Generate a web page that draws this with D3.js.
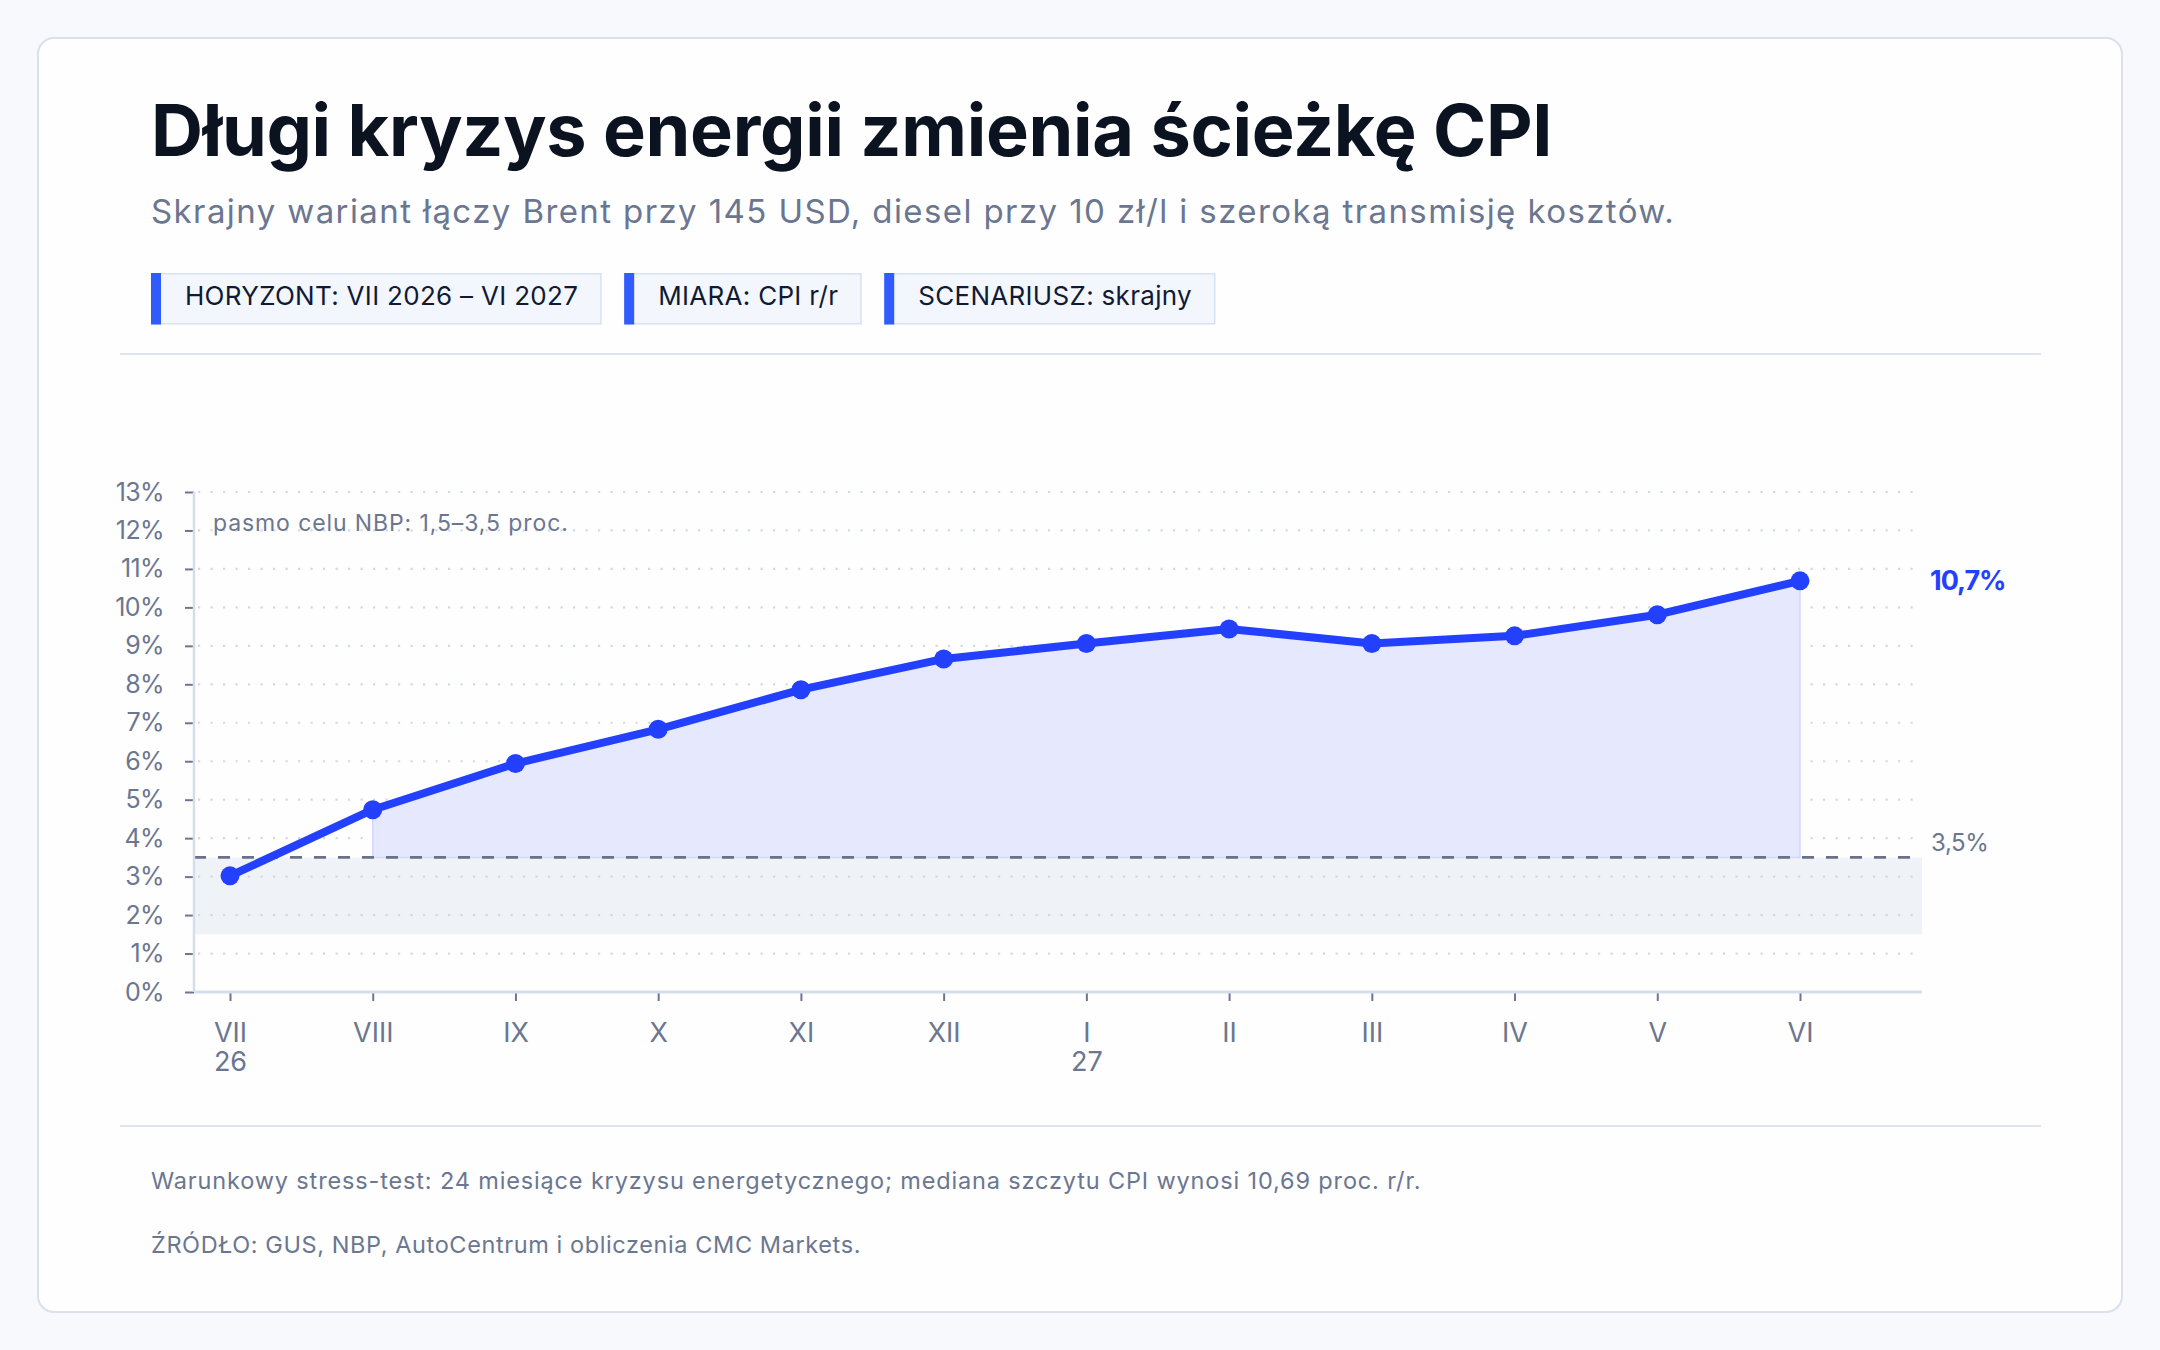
<!DOCTYPE html>
<html lang="pl">
<head>
<meta charset="utf-8">
<script src="https://cdn.jsdelivr.net/npm/d3@7"></script>
<style>
  html, body { margin: 0; padding: 0; background: #f7f9fc; }
  svg { display: block; font-family: Inter, "Noto Sans", sans-serif; }
</style>
</head>
<body>
<div id="chart"></div>
<script>
// Data
const months = ["VII", "VIII", "IX", "X", "XI", "XII", "I", "II", "III", "IV", "V", "VI"];
const years = ["26", "", "", "", "", "", "27", "", "", "", "", ""];
const cpi = [3.02, 4.74, 5.94, 6.83, 7.86, 8.66, 9.06, 9.44, 9.06, 9.26, 9.81, 10.69];
const yTicks = [0, 1, 2, 3, 4, 5, 6, 7, 8, 9, 10, 11, 12, 13];
const targetBand = [1.5, 3.5];
const tags = ["HORYZONT: VII 2026 – VI 2027", "MIARA: CPI r/r", "SCENARIUSZ: skrajny"];

const title = "Długi kryzys energii zmienia ścieżkę CPI";
const subtitle = "Skrajny wariant łączy Brent przy 145 USD, diesel przy 10 zł/l i szeroką transmisję kosztów.";
const note = "Warunkowy stress-test: 24 miesiące kryzysu energetycznego; mediana szczytu CPI wynosi 10,69 proc. r/r.";
const source = "ŹRÓDŁO: GUS, NBP, AutoCentrum i obliczenia CMC Markets.";
const bandLabel = "pasmo celu NBP: 1,5–3,5 proc.";

// Layout
const W = 2160, H = 1350;
const plot = { left: 194, right: 1922, top: 492, bottom: 992 };
const ink = "#0b1220", muted = "#6b7690", blue = "#2340ff";

const svg = d3.select("#chart").append("svg")
    .attr("width", W)
    .attr("height", H);

// card
svg.append("rect")
    .attr("x", 38).attr("y", 38)
    .attr("width", 2084).attr("height", 1274)
    .attr("rx", 16)
    .attr("fill", "#fefefe")
    .attr("stroke", "#d9e1ec")
    .attr("stroke-width", 2);

// header
svg.append("text")
    .attr("x", 151).attr("y", 156)
    .attr("fill", ink)
    .attr("font-size", 72)
    .attr("font-weight", 700)
    .attr("letter-spacing", -0.3)
    .text(title);

svg.append("text")
    .attr("x", 151).attr("y", 223)
    .attr("fill", muted)
    .attr("font-size", 33)
    .attr("letter-spacing", 1.4)
    .text(subtitle);

// tags
let tagX = 151;
tags.forEach(t => {
    const g = svg.append("g").attr("transform", `translate(${tagX},273)`);
    const label = g.append("text")
        .attr("x", 34).attr("y", 32)
        .attr("fill", "#101a33")
        .attr("font-size", 26)
        .attr("letter-spacing", 0.3)
        .text(t);
    const w = label.node().getComputedTextLength() + 34 + 22;
    g.insert("rect", "text")
        .attr("x", 0.75).attr("y", 0.75)
        .attr("width", w).attr("height", 50)
        .attr("fill", "#f3f6fc")
        .attr("stroke", "#d8e1ee")
        .attr("stroke-width", 1.5);
    g.insert("rect", "text")
        .attr("x", 0).attr("y", 0)
        .attr("width", 10).attr("height", 51.5)
        .attr("fill", "#2f5bff");
    tagX += w + 24;
});

// separators
[354, 1126].forEach(yy => {
    svg.append("line")
        .attr("x1", 120).attr("x2", 2041)
        .attr("y1", yy).attr("y2", yy)
        .attr("stroke", "#dce4ef")
        .attr("stroke-width", 2);
});

// scales
const x = d3.scaleLinear().domain([0, months.length - 1]).range([230, 1800]);
const y = d3.scaleLinear().domain([0, 13]).range([plot.bottom, plot.top]);

// target band
svg.append("rect")
    .attr("x", plot.left)
    .attr("y", y(targetBand[1]))
    .attr("width", plot.right - plot.left)
    .attr("height", y(targetBand[0]) - y(targetBand[1]))
    .attr("fill", "#eff3f8");

// dotted grid
svg.append("g")
    .selectAll("line")
    .data(yTicks.filter(d => d > 0))
    .join("line")
    .attr("x1", plot.left + 4).attr("x2", plot.right)
    .attr("y1", d => y(d)).attr("y2", d => y(d))
    .attr("stroke", "#d3d9e3")
    .attr("stroke-width", 2.2)
    .attr("stroke-dasharray", "2.2 10.3");

// area above target
const pts = cpi.map((v, i) => ({ i, v })).filter(d => d.v >= targetBand[1]);
const area = d3.area()
    .x(d => x(d.i))
    .y0(y(targetBand[1]))
    .y1(d => y(d.v));
svg.append("path")
    .datum(pts)
    .attr("d", area)
    .attr("fill", "#e6e9fe")
    .attr("stroke", "#d2d8fb")
    .attr("stroke-width", 1.5);

// target dashed line
svg.append("line")
    .attr("x1", plot.left).attr("x2", plot.right - 10)
    .attr("y1", y(targetBand[1])).attr("y2", y(targetBand[1]))
    .attr("stroke", "#677189")
    .attr("stroke-width", 2.6)
    .attr("stroke-dasharray", "12 12");

svg.append("text")
    .attr("x", 1931).attr("y", y(targetBand[1]) - 6)
    .attr("fill", muted)
    .attr("font-size", 24)
    .attr("letter-spacing", -0.4)
    .text("3,5%");

svg.append("text")
    .attr("x", 213).attr("y", 531)
    .attr("fill", muted)
    .attr("font-size", 23)
    .attr("letter-spacing", 0.9)
    .text(bandLabel);

// axes
const yAxis = svg.append("g")
    .attr("transform", `translate(${plot.left},0)`)
    .call(d3.axisLeft(y).tickValues(yTicks).tickFormat(d => d + "%").tickSize(9).tickPadding(21));
yAxis.select(".domain").remove();
yAxis.selectAll(".tick line").attr("stroke", muted).attr("stroke-width", 2);
yAxis.selectAll(".tick text")
    .attr("fill", muted)
    .attr("font-size", 25)
    .attr("letter-spacing", -0.6)
    .attr("font-family", "Inter, sans-serif");

const xAxis = svg.append("g")
    .attr("transform", `translate(0,${plot.bottom})`)
    .call(d3.axisBottom(x).tickValues(d3.range(months.length)).tickFormat("").tickSize(9));
xAxis.select(".domain").remove();
xAxis.selectAll(".tick line").attr("stroke", muted).attr("stroke-width", 2);
xAxis.selectAll(".tick").each(function (d) {
    const t = d3.select(this).append("text")
        .attr("fill", muted)
        .attr("font-size", 27)
        .attr("font-family", "Inter, sans-serif")
        .attr("text-anchor", "middle");
    t.append("tspan").attr("x", 0).attr("y", 50).text(months[d]);
    if (years[d]) t.append("tspan").attr("x", 0).attr("y", 79).text(years[d]);
});

// axis lines
svg.append("line")
    .attr("x1", plot.left).attr("x2", plot.left)
    .attr("y1", plot.top).attr("y2", plot.bottom)
    .attr("stroke", "#d5deeb").attr("stroke-width", 2.5);
svg.append("line")
    .attr("x1", plot.left).attr("x2", plot.right)
    .attr("y1", plot.bottom).attr("y2", plot.bottom)
    .attr("stroke", "#d5deeb").attr("stroke-width", 3);

// CPI line + points
const line = d3.line().x((d, i) => x(i)).y(d => y(d));
svg.append("path")
    .datum(cpi)
    .attr("d", line)
    .attr("fill", "none")
    .attr("stroke", blue)
    .attr("stroke-width", 8)
    .attr("stroke-linejoin", "round");

svg.append("g")
    .selectAll("circle")
    .data(cpi)
    .join("circle")
    .attr("cx", (d, i) => x(i))
    .attr("cy", d => y(d))
    .attr("r", 9.5)
    .attr("fill", blue);

const last = cpi[cpi.length - 1];
svg.append("text")
    .attr("x", 1930).attr("y", y(last))
    .attr("dy", "0.35em")
    .attr("fill", blue)
    .attr("font-size", 27)
    .attr("font-weight", 700)
    .attr("letter-spacing", -1)
    .text(d3.format(".1f")(last).replace(".", ",") + "%");

// footer
svg.append("text")
    .attr("x", 151).attr("y", 1189)
    .attr("fill", muted)
    .attr("font-size", 23.5)
    .attr("letter-spacing", 0.85)
    .text(note);
svg.append("text")
    .attr("x", 151).attr("y", 1253)
    .attr("fill", muted)
    .attr("font-size", 23.5)
    .attr("letter-spacing", 0.6)
    .text(source);
</script>
</body>
</html>
